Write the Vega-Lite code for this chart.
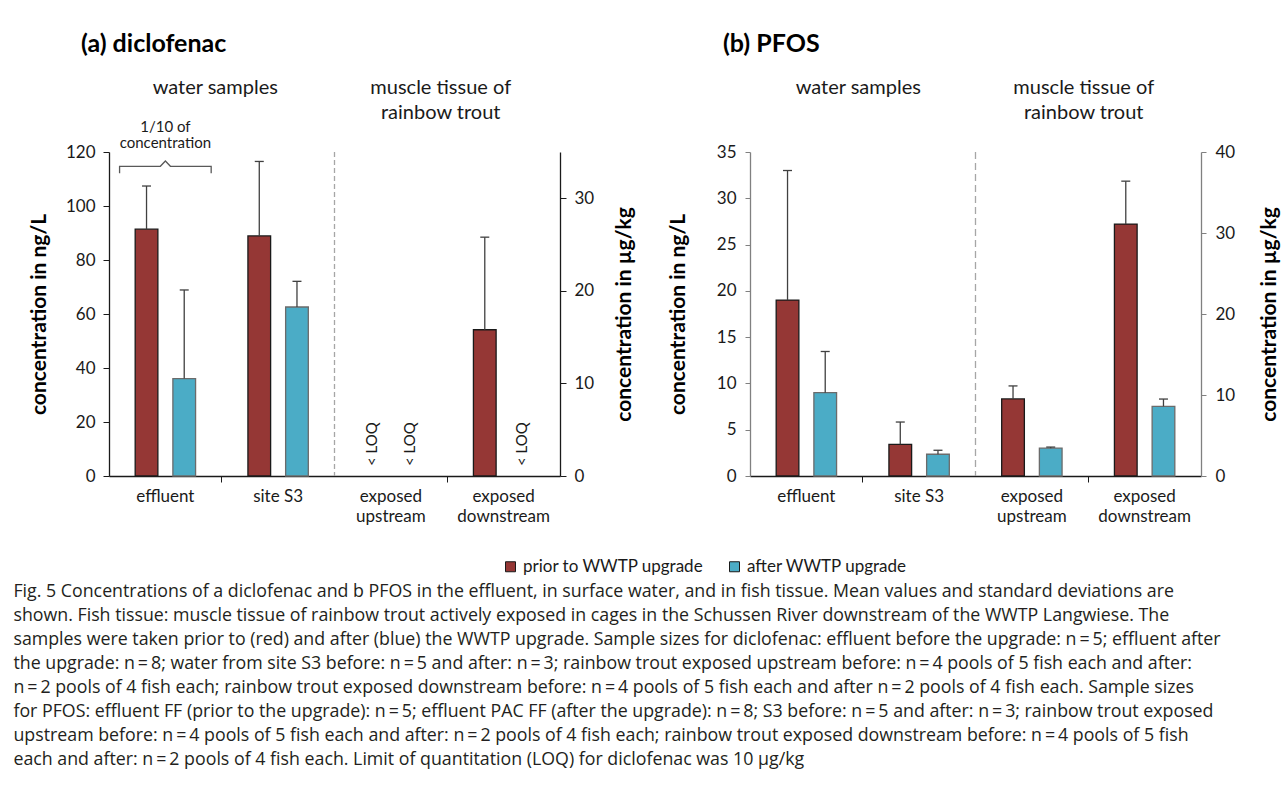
{
  "$schema": "https://vega.github.io/schema/vega-lite/v6.json",
  "background": "white",
  "padding": {"left": 13, "top": 32, "right": 5, "bottom": 5},
  "config": {"view": {"stroke": null}, "font": "Lato", "axis": {"labelFont": "Lato", "titleFont": "Lato", "grid": false}},
  "datasets": {
    "a_water": [
      {"cat": "effluent", "period": "prior to WWTP upgrade", "mean": 91.4, "upper": 107.4},
      {"cat": "effluent", "period": "after WWTP upgrade", "mean": 36.1, "upper": 68.9},
      {"cat": "site S3", "period": "prior to WWTP upgrade", "mean": 88.9, "upper": 116.5},
      {"cat": "site S3", "period": "after WWTP upgrade", "mean": 62.6, "upper": 72.1}
    ],
    "a_tissue": [
      {"cat": "exposed downstream", "period": "prior to WWTP upgrade", "mean": 15.8, "upper": 25.8}
    ],
    "a_loq": [
      {"cat": "exposed upstream", "period": "prior to WWTP upgrade", "note": "< LOQ"},
      {"cat": "exposed upstream", "period": "after WWTP upgrade", "note": "< LOQ"},
      {"cat": "exposed downstream", "period": "after WWTP upgrade", "note": "< LOQ"}
    ],
    "b_water": [
      {"cat": "effluent", "period": "prior to WWTP upgrade", "mean": 19.0, "upper": 33.0},
      {"cat": "effluent", "period": "after WWTP upgrade", "mean": 9.0, "upper": 13.45},
      {"cat": "site S3", "period": "prior to WWTP upgrade", "mean": 3.42, "upper": 5.83},
      {"cat": "site S3", "period": "after WWTP upgrade", "mean": 2.35, "upper": 2.78}
    ],
    "b_tissue": [
      {"cat": "exposed upstream", "period": "prior to WWTP upgrade", "mean": 9.52, "upper": 11.12},
      {"cat": "exposed upstream", "period": "after WWTP upgrade", "mean": 3.44, "upper": 3.57},
      {"cat": "exposed downstream", "period": "prior to WWTP upgrade", "mean": 31.1, "upper": 36.4},
      {"cat": "exposed downstream", "period": "after WWTP upgrade", "mean": 8.6, "upper": 9.5}
    ],
    "headers_a": [{"grp": "water samples"}, {"grp": "muscle tissue of rainbow trout"}],
    "headers_b": [{"grp": "water samples"}, {"grp": "muscle  tissue of rainbow trout"}],
    "sep": [{"cat": "site S3"}],
    "bracket": [{"cat": "effluent"}]
  },
  "title": {
    "text": [
      "Fig. 5  Concentrations of a diclofenac and b PFOS in the effluent, in surface water, and in fish tissue. Mean values and standard deviations are",
      "shown. Fish tissue: muscle tissue of rainbow trout actively exposed in cages in the Schussen River downstream of the WWTP Langwiese. The",
      "samples were taken prior to (red) and after (blue) the WWTP upgrade. Sample sizes for diclofenac: effluent before the upgrade: n\u2009=\u20095; effluent after",
      "the upgrade: n\u2009=\u20098; water from site S3 before: n\u2009=\u20095 and after: n\u2009=\u20093; rainbow trout exposed upstream before: n\u2009=\u20094 pools of 5 fish each and after:",
      "n\u2009=\u20092 pools of 4 fish each; rainbow trout exposed downstream before: n\u2009=\u20094 pools of 5 fish each and after n\u2009=\u20092 pools of 4 fish each. Sample sizes",
      "for PFOS: effluent FF (prior to the upgrade): n\u2009=\u20095; effluent PAC FF (after the upgrade): n\u2009=\u20098; S3 before: n\u2009=\u20095 and after: n\u2009=\u20093; rainbow trout exposed",
      "upstream before: n\u2009=\u20094 pools of 5 fish each and after: n\u2009=\u20092 pools of 4 fish each; rainbow trout exposed downstream before: n\u2009=\u20094 pools of 5 fish",
      "each and after: n\u2009=\u20092 pools of 4 fish each. Limit of quantitation (LOQ) for diclofenac was 10 \u00b5g/kg"
    ],
    "orient": "bottom", "anchor": "start", "frame": "bounds", "dx": -15, "offset": 8,
    "font": "Open Sans", "fontSize": 17.8, "fontWeight": "normal", "lineHeight": 24, "color": "#231f20"
  },
  "spacing": 190,
  "bounds": "flush",
  "hconcat": [
    {
      "width": 451, "height": 324,
      "title": {"text": "(a) diclofenac", "anchor": "start", "frame": "group", "dx": -28, "offset": 20, "font": "Lato", "fontSize": 25, "fontWeight": "bold", "color": "#000"},
      "layer": [
        {
          "data": {"name": "a_water"},
          "layer": [
            {
              "mark": {"type": "bar", "strokeWidth": 1.3},
              "encoding": {
                "x": {"field": "cat", "type": "nominal", "title": null, "scale": {"domain": ["effluent", "site S3", "exposed upstream", "exposed downstream"], "paddingInner": 0, "paddingOuter": 0},
                  "axis": {"bandPosition": 1, "tickOpacity": {"condition": {"test": "datum.value == 'effluent' || datum.value == 'exposed upstream'", "value": 1}, "value": 0}, "tickSize": 6, "tickColor": "#1a1a1a", "domainColor": "#1a1a1a", "domainWidth": 1.3, "labelAngle": 0, "labelFontSize": 17, "labelColor": "#1a1a1a", "labelPadding": 6, "labelLineHeight": 20, "labelExpr": "indexof(datum.label, 'exposed') == 0 ? ['exposed', replace(datum.label, 'exposed ', '')] : datum.label"}},
                "xOffset": {"field": "period", "type": "nominal", "scale": {"domain": ["prior to WWTP upgrade", "after WWTP upgrade"], "paddingInner": 0.398, "paddingOuter": 0.6945}},
                "y": {"field": "mean", "type": "quantitative", "title": "concentration in ng/L", "scale": {"domain": [0, 120], "nice": false},
                  "axis": {"orient": "left", "values": [0, 20, 40, 60, 80, 100, 120], "tickSize": 6, "tickColor": "#1a1a1a", "domainColor": "#1a1a1a", "domainWidth": 1.3, "labelFontSize": 17, "labelColor": "#1a1a1a", "labelPadding": 8, "titleFontSize": 21, "titleFontWeight": "bold", "titleColor": "#000", "titlePadding": 16}},
                "fill": {"field": "period", "type": "nominal", "scale": {"domain": ["prior to WWTP upgrade", "after WWTP upgrade"], "range": ["#953735", "#4BACC6"]},
                  "legend": {"orient": "none", "legendX": 393, "legendY": 406, "direction": "horizontal", "title": null, "symbolType": "square", "symbolSize": 100, "symbolStrokeColor": "#333", "symbolStrokeWidth": 1, "labelFont": "Lato", "labelFontSize": 17, "labelColor": "#1a1a1a", "labelLimit": 400, "columnPadding": 22, "padding": 0}},
                "stroke": {"condition": {"test": "datum.period == 'after WWTP upgrade'", "value": "#6b6b6b"}, "value": "#1a1a1a"}
              }
            },
            {
              "mark": {"type": "rule", "color": "#404040", "strokeWidth": 1.3},
              "encoding": {
                "x": {"field": "cat", "type": "nominal", "title": null},
                "xOffset": {"field": "period", "type": "nominal"},
                "y": {"field": "mean", "type": "quantitative", "title": "concentration in ng/L"},
                "y2": {"field": "upper"}
              }
            },
            {
              "mark": {"type": "tick", "color": "#404040", "thickness": 1.3, "size": 9, "opacity": 1},
              "encoding": {
                "x": {"field": "cat", "type": "nominal", "title": null},
                "xOffset": {"field": "period", "type": "nominal"},
                "y": {"field": "upper", "type": "quantitative", "title": "concentration in ng/L"}
              }
            },
            {
              "data": {"name": "sep"},
              "mark": {"type": "rule", "color": "#a6a6a6", "strokeWidth": 1.3, "strokeDash": [5, 3]},
              "encoding": {"x": {"field": "cat", "type": "nominal", "title": null, "bandPosition": 1}}
            },
            {
              "data": {"name": "bracket"},
              "mark": {"type": "point", "shape": "M-1,0.153L-1,0L-0.11,0L0,-0.116L0.11,0L1,0L1,0.153", "size": 8390, "filled": false, "stroke": "#595959", "strokeWidth": 1.3, "opacity": 1},
              "encoding": {"x": {"field": "cat", "type": "nominal", "title": null}, "y": {"datum": 114.7, "type": "quantitative", "title": "concentration in ng/L"}}
            },
            {
              "data": {"name": "bracket"},
              "mark": {"type": "text", "text": ["1/10 of", "concentration"], "fontSize": 15, "lineHeight": 16, "baseline": "top", "align": "center", "color": "#1a1a1a"},
              "encoding": {"x": {"field": "cat", "type": "nominal", "title": null}, "y": {"datum": 132, "type": "quantitative", "title": "concentration in ng/L"}}
            }
          ]
        },
        {
          "data": {"name": "a_tissue"},
          "layer": [
            {
              "mark": {"type": "bar", "strokeWidth": 1.3},
              "encoding": {
                "x": {"field": "cat", "type": "nominal", "title": null, "axis": null, "scale": {"domain": ["effluent", "site S3", "exposed upstream", "exposed downstream"], "paddingInner": 0, "paddingOuter": 0}},
                "xOffset": {"field": "period", "type": "nominal", "scale": {"domain": ["prior to WWTP upgrade", "after WWTP upgrade"], "paddingInner": 0.398, "paddingOuter": 0.6945}},
                "y": {"field": "mean", "type": "quantitative", "title": "concentration in \u00b5g/kg", "scale": {"domain": [0, 35], "nice": false},
                  "axis": {"orient": "right", "values": [0, 10, 20, 30], "tickSize": 6, "tickColor": "#1a1a1a", "domainColor": "#1a1a1a", "domainWidth": 1.3, "labelFontSize": 17, "labelColor": "#1a1a1a", "labelPadding": 8, "titleFontSize": 21, "titleFontWeight": "bold", "titleColor": "#000", "titleAngle": 270, "titleBaseline": "top", "titlePadding": 20}},
                "fill": {"field": "period", "type": "nominal"},
                "stroke": {"condition": {"test": "datum.period == 'after WWTP upgrade'", "value": "#6b6b6b"}, "value": "#1a1a1a"}
              }
            },
            {
              "mark": {"type": "rule", "color": "#404040", "strokeWidth": 1.3},
              "encoding": {
                "x": {"field": "cat", "type": "nominal", "title": null},
                "xOffset": {"field": "period", "type": "nominal"},
                "y": {"field": "mean", "type": "quantitative", "title": "concentration in \u00b5g/kg"},
                "y2": {"field": "upper"}
              }
            },
            {
              "mark": {"type": "tick", "color": "#404040", "thickness": 1.3, "size": 9, "opacity": 1},
              "encoding": {
                "x": {"field": "cat", "type": "nominal", "title": null},
                "xOffset": {"field": "period", "type": "nominal"},
                "y": {"field": "upper", "type": "quantitative", "title": "concentration in \u00b5g/kg"}
              }
            },
            {
              "data": {"name": "a_loq"},
              "mark": {"type": "text", "angle": 270, "align": "left", "baseline": "middle", "dx": 10, "fontSize": 15, "color": "#1a1a1a"},
              "encoding": {
                "x": {"field": "cat", "type": "nominal", "title": null},
                "xOffset": {"field": "period", "type": "nominal"},
                "y": {"datum": 0, "type": "quantitative", "title": "concentration in \u00b5g/kg"},
                "text": {"field": "note"}
              }
            }
          ]
        },
        {
          "data": {"name": "headers_a"},
          "mark": {"type": "text", "text": ""},
          "encoding": {
            "x": {"field": "grp", "type": "nominal", "title": null, "scale": {"domain": ["water samples", "muscle tissue of rainbow trout"], "paddingInner": 0, "paddingOuter": 0},
              "axis": {"orient": "top", "domain": false, "ticks": false, "tickSize": 0, "labelAngle": 0, "labelFontSize": 20, "labelColor": "#1a1a1a", "labelBaseline": "top", "labelPadding": 75, "labelOffset": -7, "labelLineHeight": 25, "labelExpr": "indexof(datum.label, 'rainbow') > 0 ? [replace(datum.label, ' rainbow trout', ''), 'rainbow trout'] : datum.label"}}
          }
        }
      ],
      "resolve": {"scale": {"x": "independent", "y": "independent", "xOffset": "independent"}}
    },
    {
      "width": 451, "height": 324,
      "title": {"text": "(b) PFOS", "anchor": "start", "frame": "group", "dx": -27, "offset": 20, "font": "Lato", "fontSize": 25, "fontWeight": "bold", "color": "#000"},
      "layer": [
        {
          "data": {"name": "b_water"},
          "layer": [
            {
              "mark": {"type": "bar", "strokeWidth": 1.3},
              "encoding": {
                "x": {"field": "cat", "type": "nominal", "title": null, "scale": {"domain": ["effluent", "site S3", "exposed upstream", "exposed downstream"], "paddingInner": 0, "paddingOuter": 0},
                  "axis": {"bandPosition": 1, "tickOpacity": {"condition": {"test": "datum.value == 'effluent' || datum.value == 'exposed upstream'", "value": 1}, "value": 0}, "tickSize": 6, "tickColor": "#1a1a1a", "domainColor": "#1a1a1a", "domainWidth": 1.3, "labelAngle": 0, "labelFontSize": 17, "labelColor": "#1a1a1a", "labelPadding": 6, "labelLineHeight": 20, "labelExpr": "indexof(datum.label, 'exposed') == 0 ? ['exposed', replace(datum.label, 'exposed ', '')] : datum.label"}},
                "xOffset": {"field": "period", "type": "nominal", "scale": {"domain": ["prior to WWTP upgrade", "after WWTP upgrade"], "paddingInner": 0.398, "paddingOuter": 0.6945}},
                "y": {"field": "mean", "type": "quantitative", "title": "concentration in ng/L", "scale": {"domain": [0, 35], "nice": false},
                  "axis": {"orient": "left", "values": [0, 5, 10, 15, 20, 25, 30, 35], "tickSize": 5, "tickColor": "#808080", "domainColor": "#808080", "domainWidth": 1.3, "labelFontSize": 17, "labelColor": "#1a1a1a", "labelPadding": 9, "titleFontSize": 21, "titleFontWeight": "bold", "titleColor": "#000", "titlePadding": 28}},
                "fill": {"field": "period", "type": "nominal"},
                "stroke": {"condition": {"test": "datum.period == 'after WWTP upgrade'", "value": "#6b6b6b"}, "value": "#1a1a1a"}
              }
            },
            {
              "mark": {"type": "rule", "color": "#404040", "strokeWidth": 1.3},
              "encoding": {
                "x": {"field": "cat", "type": "nominal", "title": null},
                "xOffset": {"field": "period", "type": "nominal"},
                "y": {"field": "mean", "type": "quantitative", "title": "concentration in ng/L"},
                "y2": {"field": "upper"}
              }
            },
            {
              "mark": {"type": "tick", "color": "#404040", "thickness": 1.3, "size": 9, "opacity": 1},
              "encoding": {
                "x": {"field": "cat", "type": "nominal", "title": null},
                "xOffset": {"field": "period", "type": "nominal"},
                "y": {"field": "upper", "type": "quantitative", "title": "concentration in ng/L"}
              }
            },
            {
              "data": {"name": "sep"},
              "mark": {"type": "rule", "color": "#a6a6a6", "strokeWidth": 1.3, "strokeDash": [7, 4]},
              "encoding": {"x": {"field": "cat", "type": "nominal", "title": null, "bandPosition": 1}}
            }
          ]
        },
        {
          "data": {"name": "b_tissue"},
          "layer": [
            {
              "mark": {"type": "bar", "strokeWidth": 1.3},
              "encoding": {
                "x": {"field": "cat", "type": "nominal", "title": null, "axis": null, "scale": {"domain": ["effluent", "site S3", "exposed upstream", "exposed downstream"], "paddingInner": 0, "paddingOuter": 0}},
                "xOffset": {"field": "period", "type": "nominal", "scale": {"domain": ["prior to WWTP upgrade", "after WWTP upgrade"], "paddingInner": 0.398, "paddingOuter": 0.6945}},
                "y": {"field": "mean", "type": "quantitative", "title": "concentration in \u00b5g/kg", "scale": {"domain": [0, 40], "nice": false},
                  "axis": {"orient": "right", "values": [0, 10, 20, 30, 40], "tickSize": 5, "tickColor": "#808080", "domainColor": "#808080", "domainWidth": 1.3, "labelFontSize": 17, "labelColor": "#1a1a1a", "labelPadding": 9, "titleFontSize": 21, "titleFontWeight": "bold", "titleColor": "#000", "titleAngle": 270, "titleBaseline": "top", "titlePadding": 24}},
                "fill": {"field": "period", "type": "nominal"},
                "stroke": {"condition": {"test": "datum.period == 'after WWTP upgrade'", "value": "#6b6b6b"}, "value": "#1a1a1a"}
              }
            },
            {
              "mark": {"type": "rule", "color": "#404040", "strokeWidth": 1.3},
              "encoding": {
                "x": {"field": "cat", "type": "nominal", "title": null},
                "xOffset": {"field": "period", "type": "nominal"},
                "y": {"field": "mean", "type": "quantitative", "title": "concentration in \u00b5g/kg"},
                "y2": {"field": "upper"}
              }
            },
            {
              "mark": {"type": "tick", "color": "#404040", "thickness": 1.3, "size": 9, "opacity": 1},
              "encoding": {
                "x": {"field": "cat", "type": "nominal", "title": null},
                "xOffset": {"field": "period", "type": "nominal"},
                "y": {"field": "upper", "type": "quantitative", "title": "concentration in \u00b5g/kg"}
              }
            }
          ]
        },
        {
          "data": {"name": "headers_b"},
          "mark": {"type": "text", "text": ""},
          "encoding": {
            "x": {"field": "grp", "type": "nominal", "title": null, "scale": {"domain": ["water samples", "muscle  tissue of rainbow trout"], "paddingInner": 0, "paddingOuter": 0},
              "axis": {"orient": "top", "domain": false, "ticks": false, "tickSize": 0, "labelAngle": 0, "labelFontSize": 20, "labelColor": "#1a1a1a", "labelBaseline": "top", "labelPadding": 75, "labelOffset": -5, "labelLineHeight": 25, "labelExpr": "indexof(datum.label, 'rainbow') > 0 ? [replace(datum.label, ' rainbow trout', ''), 'rainbow trout'] : datum.label"}}
          }
        }
      ],
      "resolve": {"scale": {"x": "independent", "y": "independent", "xOffset": "independent"}}
    }
  ]
}
